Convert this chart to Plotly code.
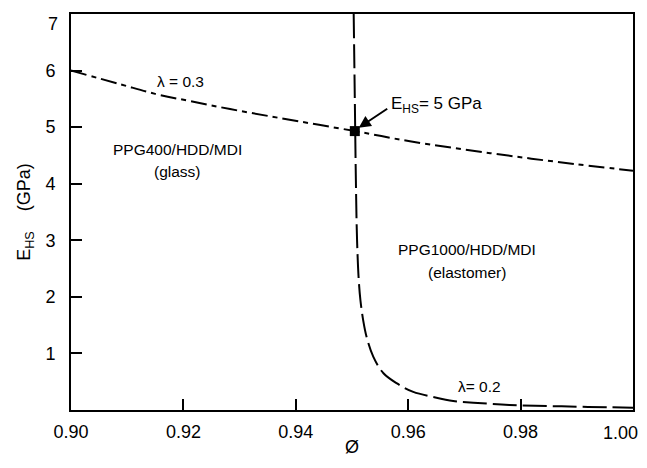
import plotly.graph_objects as go

# lambda = 0.3 curve (dash-dot)
phi_l03 = [0.900, 0.9087, 0.9153, 0.9212, 0.9283, 0.9372, 0.9505, 0.9603, 0.9746, 0.9870, 1.000]
ehs_l03 = [6.00, 5.76, 5.58, 5.46, 5.32, 5.16, 4.93, 4.75, 4.54, 4.38, 4.23]

# lambda = 0.2 curve (long dashes)
phi_l02 = [0.9503, 0.9505, 0.9507, 0.9509, 0.9512, 0.9515, 0.9520, 0.9526, 0.9538,
           0.9556, 0.9580, 0.9609, 0.9645, 0.9680, 0.9716, 0.9780, 0.9850, 0.9920, 1.0000]
ehs_l02 = [7.0, 5.5, 4.0, 3.0, 2.3, 1.94, 1.58, 1.29, 0.94,
           0.65, 0.47, 0.32, 0.23, 0.16, 0.13, 0.09, 0.07, 0.055, 0.04]

# intersection point
phi_pt = [0.9505]
ehs_pt = [4.93]

x_ticks = [0.90, 0.92, 0.94, 0.96, 0.98, 1.00]
x_ticklabels = ["0.90", "0.92", "0.94", "0.96", "0.98", ""]
x_last_label = "1.00"
y_ticks = [1, 2, 3, 4, 5, 6, 7]
y_ticklabels = ["1", "2", "3", "4", "5", "6", ""]
y_top_label = "7"

FONT = "Liberation Sans, Arial, sans-serif"

fig = go.Figure()
fig.add_trace(go.Scatter(x=phi_l03, y=ehs_l03, mode="lines",
                         line=dict(color="black", width=2, shape="spline",
                                   dash="16px,5px,5px,5px"),
                         showlegend=False, hoverinfo="skip"))
fig.add_trace(go.Scatter(x=phi_l02, y=ehs_l02, mode="lines",
                         line=dict(color="black", width=2, shape="spline",
                                   dash="24px,6px"),
                         showlegend=False, hoverinfo="skip"))
fig.add_trace(go.Scatter(x=phi_pt, y=ehs_pt, mode="markers",
                         marker=dict(symbol="square", size=10, color="black"),
                         showlegend=False, hoverinfo="skip"))

ann_font = dict(family=FONT, size=15.5, color="black")
annotations = [
    dict(x=0.9194, y=5.81, text="λ = 0.3", showarrow=False, font=ann_font),
    dict(x=0.919, y=4.61, text="PPG400/HDD/MDI", showarrow=False, font=ann_font),
    dict(x=0.919, y=4.22, text="(glass)", showarrow=False, font=ann_font),
    dict(x=0.9704, y=2.83, text="PPG1000/HDD/MDI", showarrow=False, font=ann_font),
    dict(x=0.9704, y=2.43, text="(elastomer)", showarrow=False, font=ann_font),
    dict(x=0.9726, y=0.42, text="λ= 0.2", showarrow=False, font=ann_font),
    dict(x=0.9566, y=5.40, text="E<sub>HS</sub>= 5 GPa", showarrow=False,
         xanchor="left", font=dict(family=FONT, size=17, color="black")),
    dict(x=0.9512, y=4.99, ax=30, ay=-20, text="", showarrow=True,
         arrowhead=2, arrowsize=1.2, arrowwidth=2, arrowcolor="black",
         xref="x", yref="y"),
    dict(x=0, xref="paper", y=7, yref="y", text=y_top_label, showarrow=False,
         xanchor="right", yanchor="top", xshift=-11, yshift=2,
         font=dict(family=FONT, size=18, color="black")),
    dict(x=1.0, xref="x", y=0, yref="paper", text=x_last_label, showarrow=False,
         xanchor="right", yanchor="top", xshift=7, yshift=-11,
         font=dict(family=FONT, size=18, color="black")),
]

fig.update_layout(
    width=639, height=460,
    margin=dict(l=63, r=14, t=6, b=58),
    paper_bgcolor="white", plot_bgcolor="white",
    font=dict(family=FONT, size=18, color="black"),
    annotations=annotations,
    xaxis=dict(range=[0.90, 1.00], tickvals=x_ticks, ticktext=x_ticklabels,
               ticks="inside", ticklen=11, tickwidth=2, tickcolor="black",
               showline=True, linewidth=2, linecolor="black", mirror=True,
               showgrid=False, zeroline=False, ticklabelstandoff=4,
               ticklabeloverflow="allow", automargin=False,
               title=dict(text="Ø", font=dict(size=18), standoff=0)),
    yaxis=dict(range=[0, 7], tickvals=y_ticks, ticktext=y_ticklabels,
               ticks="inside", ticklen=11, tickwidth=2, tickcolor="black",
               showline=True, linewidth=2, linecolor="black", mirror=True,
               showgrid=False, zeroline=False, ticklabelstandoff=10,
               ticklabeloverflow="allow", automargin=False,
               title=dict(text="E<sub>HS</sub>    (GPa)", font=dict(size=18), standoff=10)),
)

fig.write_html("out.html")
